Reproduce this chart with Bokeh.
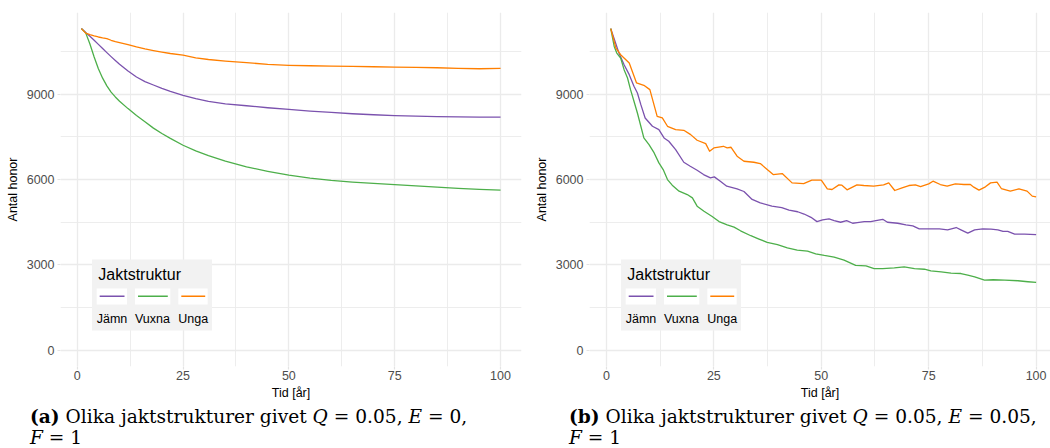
from bokeh.plotting import figure
from bokeh.models import Range1d, FixedTicker, BoxAnnotation, Label, Div
from bokeh.layouts import row, column
from bokeh.embed import file_html
from bokeh.resources import INLINE

# ---------------- data ----------------
series_names = ["Jämn", "Vuxna", "Unga"]
series_colors = ["#7B52AE", "#4DAF4A", "#FF7F00"]
legend_title = "Jaktstruktur"
x_title = "Tid [år]"
y_title = "Antal honor"
x_ticks = [0, 25, 50, 75, 100]
x_tick_labels = ["0", "25", "50", "75", "100"]
x_minor = [12.5, 37.5, 62.5, 87.5]
y_ticks = [0, 3000, 6000, 9000]
y_tick_labels = ["0", "3000", "6000", "9000"]
y_minor = [1500, 4500, 7500, 10500]

# panel (a): Q = 0.05, E = 0, F = 1
tid_a = [1, 2, 3, 4, 5, 6, 7, 8, 9, 10, 12, 14, 16, 18, 20, 22, 25, 28, 31, 35,
         40, 45, 50, 55, 60, 65, 70, 75, 80, 85, 90, 95, 100]
jamn_a = [11300, 11160, 11030, 10890, 10745, 10600, 10455, 10315, 10180, 10050,
          9810, 9600, 9440, 9320, 9200, 9095, 8955, 8840, 8745, 8660,
          8590, 8520, 8460, 8405, 8355, 8310, 8275, 8245, 8225, 8210, 8200, 8193, 8188]
vuxna_a = [11300, 11150, 10760, 10300, 9890, 9560, 9290, 9070, 8900, 8750,
           8490, 8250, 8030, 7805, 7615, 7445, 7203, 7005, 6840, 6650,
           6445, 6290, 6152, 6050, 5970, 5912, 5865, 5822, 5778, 5732, 5692, 5655, 5627]
unga_a = [11300, 11140, 11090, 11045, 11005, 10975, 10950, 10890, 10840, 10805,
          10740, 10660, 10590, 10530, 10475, 10425, 10365, 10275, 10215, 10160,
          10105, 10040, 10010, 9995, 9982, 9972, 9960, 9948, 9935, 9925, 9905, 9890, 9900]

# panel (b): Q = 0.05, E = 0.05, F = 1
tid_b_jamn = [1, 2.9, 4.1, 5.3, 6.4, 7.2, 8.0, 9.0, 10.7, 12.2, 13.4, 14.5, 16.1, 18.0,
              19.5, 21.1, 22.6, 24.2, 25.1, 26.5, 28.0, 30.4, 32.0, 33.9, 35.8, 38.5,
              40.8, 42.5, 44.5, 46.0, 47.6, 49.0, 50.3, 51.8, 53.0, 54.5, 55.9, 57.3,
              58.4, 60.0, 61.5, 62.7, 64.3, 65.4, 67.8, 69.7, 71.3, 72.8, 75.5, 77.5,
              79.4, 81.4, 82.5, 84.1, 85.7, 87.6, 89.5, 91.1, 92.3, 93.4, 95.0, 97.3, 100]
jamn_b = [11300, 10441, 10032, 9682, 9273, 9039, 8630, 8162, 7870, 7753, 7460, 7344, 7051, 6607,
          6467, 6327, 6175, 6058, 6093, 5941, 5765, 5672, 5580, 5300, 5180, 5065,
          5015, 4927, 4869, 4789, 4673, 4523, 4581, 4615, 4558, 4500, 4558, 4465,
          4488, 4523, 4523, 4558, 4604, 4500, 4465, 4408, 4373, 4269, 4269, 4269,
          4235, 4315, 4235, 4119, 4235, 4269, 4258, 4235, 4177, 4177, 4085, 4085, 4062]
tid_b_vuxna = [1, 1.8, 2.4, 3.3, 4.1, 4.9, 5.6, 6.4, 7.2, 8.0, 8.7, 9.9, 11.1, 12.2, 13.2,
               14.2, 15.3, 16.9, 18.8, 20.0, 21.1, 22.7, 24.6, 26.2, 28.1, 29.7, 31.2,
               33.6, 35.5, 37.4, 39.8, 42.1, 44.4, 46.8, 48.7, 50.7, 53.0, 55.3, 58.0,
               60.4, 62.3, 64.3, 67.0, 69.3, 71.7, 74.0, 75.5, 77.9, 80.2, 82.5, 84.1,
               85.7, 88.0, 90.0, 92.7, 95.8, 98.1, 100]
vuxna_b = [11300, 10675, 10441, 10266, 9857, 9565, 9156, 8747, 8337, 7870, 7461, 7227, 6935, 6584, 6350,
           5999, 5801, 5590, 5473, 5356, 5064, 4889, 4700, 4523, 4408, 4327, 4200,
           4027, 3911, 3796, 3715, 3600, 3519, 3484, 3392, 3334, 3277, 3173, 2988,
           2965, 2873, 2873, 2896, 2931, 2873, 2850, 2792, 2757, 2711, 2700, 2642,
           2584, 2469, 2481, 2469, 2446, 2411, 2388]
tid_b_unga = [1, 2.2, 3.3, 5.3, 7.0, 8.7, 10.1, 11.8, 13.0, 14.2, 16.1, 18.0, 19.6, 21.1,
              23.1, 24.0, 25.0, 27.2, 28.1, 29.0, 30.4, 32.0, 34.3, 35.8, 37.0, 38.8,
              40.9, 43.2, 45.9, 47.8, 50.0, 51.4, 52.5, 54.1, 54.8, 56.0, 58.3, 59.9,
              62.2, 64.5, 65.7, 67.1, 68.8, 70.4, 71.9, 73.1, 75.0, 76.0, 77.7, 79.3,
              81.2, 83.2, 84.7, 85.5, 86.7, 88.2, 89.4, 90.9, 91.9, 94.0, 96.0, 97.9, 99.1, 100]
unga_b = [11300, 10617, 10383, 10091, 9390, 9308, 9156, 8220, 8162, 7870, 7753, 7729, 7577, 7379,
          7262, 6993, 7110, 7168, 7110, 7133, 6818, 6642, 6607, 6560, 6409, 6175,
          6210, 5882, 5859, 5976, 5977, 5673, 5650, 5813, 5802, 5638, 5813, 5790,
          5767, 5813, 5883, 5615, 5708, 5790, 5813, 5755, 5848, 5942, 5825, 5767,
          5848, 5825, 5825, 5732, 5627, 5743, 5883, 5907, 5685, 5592, 5673, 5592, 5417, 5393]

caption_a = ('<b>(a)</b> Olika jaktstrukturer givet <i>Q</i> = 0.05, <i>E</i> = 0,'
             '<br><i>F</i> = 1')
caption_b = ('<b>(b)</b> Olika jaktstrukturer givet <i>Q</i> = 0.05, <i>E</i> = 0.05,'
             '<br><i>F</i> = 1')

# ---------------- styling ----------------
FONT = "Liberation Sans"
GRID = "#EBEBEB"

all_vals = jamn_a + vuxna_a + unga_a + jamn_b + vuxna_b + unga_b
ymax = max(all_vals)
y_lo, y_hi = -0.05 * ymax, 1.05 * ymax
xmin, xmax = 1, 100
xpad = 0.05 * (xmax - xmin)

FIG_H = 402


def add_legend(p, bx, by):
    su = dict(left_units="screen", right_units="screen", top_units="screen", bottom_units="screen")
    p.add_layout(BoxAnnotation(left=bx, right=bx + 120, top=by, bottom=by - 71,
                               fill_color="#F2F2F2", fill_alpha=1.0, line_alpha=0, **su))
    p.add_layout(Label(x=bx + 6.3, y=by - 15, x_units="screen", y_units="screen",
                       text=legend_title, text_font=FONT, text_font_size="16px",
                       text_color="black", text_baseline="middle", text_align="left"))
    widths = [30.3, 35.3, 29.4]
    left = bx + 4.7
    for name, col, w in zip(series_names, series_colors, widths):
        p.add_layout(BoxAnnotation(left=left, right=left + w, top=by - 29, bottom=by - 45,
                                   fill_color="white", fill_alpha=1.0, line_alpha=0, **su))
        p.add_layout(BoxAnnotation(left=left + 3, right=left + w - 2.5, top=by - 36.0, bottom=by - 37.4,
                                   fill_color=col, fill_alpha=1.0, line_alpha=0, **su))
        p.add_layout(Label(x=left, y=by - 59.3, x_units="screen", y_units="screen",
                           text=name, text_font=FONT, text_font_size="12.5px",
                           text_color="black", text_baseline="middle", text_align="left"))
        left += w + 8


def panel(width, border_left, border_right, x_end, data):
    p = figure(width=width, height=FIG_H, output_backend="svg", toolbar_location=None,
               x_range=Range1d(xmin - xpad, x_end), y_range=Range1d(y_lo, y_hi),
               min_border_left=border_left, min_border_right=border_right,
               min_border_top=12, min_border_bottom=35)
    p.outline_line_color = None
    p.background_fill_color = "white"
    p.border_fill_color = "white"

    xt = FixedTicker(ticks=x_ticks, minor_ticks=x_minor)
    yt = FixedTicker(ticks=y_ticks, minor_ticks=y_minor)
    p.xaxis.ticker = xt
    p.yaxis.ticker = yt
    p.xgrid.ticker = xt
    p.ygrid.ticker = yt
    p.xaxis.major_label_overrides = dict(zip(x_ticks, x_tick_labels))
    p.yaxis.major_label_overrides = dict(zip(y_ticks, y_tick_labels))

    for g in (p.xgrid[0], p.ygrid[0]):
        g.grid_line_color = GRID
        g.grid_line_width = 1.3
        g.minor_grid_line_color = GRID
        g.minor_grid_line_width = 0.9

    for ax in (p.xaxis[0], p.yaxis[0]):
        ax.axis_line_color = None
        ax.major_tick_line_color = "#E3E3E3"
        ax.major_tick_line_width = 1.2
        ax.major_tick_out = 3
        ax.major_tick_in = 0
        ax.minor_tick_line_color = None
        ax.major_label_text_font = FONT
        ax.major_label_text_font_size = "12.5px"
        ax.major_label_text_color = "#4D4D4D"
        ax.axis_label_text_font = FONT
        ax.axis_label_text_font_size = "12.5px"
        ax.axis_label_text_font_style = "normal"
        ax.axis_label_text_color = "black"
    p.xaxis.axis_label = x_title
    p.yaxis.axis_label = y_title
    p.xaxis.major_label_standoff = 0
    p.yaxis.major_label_standoff = 2
    p.xaxis.axis_label_standoff = 3
    p.yaxis.axis_label_standoff = 4

    for (xs, ys), col in zip(data, series_colors):
        p.line(xs, ys, line_color=col, line_width=1.3, line_join="round")

    add_legend(p, 31.5, 107)
    return p


pa = panel(530, 60, 9, xmax + xpad,
           [(tid_a, jamn_a), (tid_a, vuxna_a), (tid_a, unga_a)])
# right panel is cropped at the page edge in the reference
pb = panel(520, 59, 0, 103.35,
           [(tid_b_jamn, jamn_b), (tid_b_vuxna, vuxna_b), (tid_b_unga, unga_b)])


def caption(html, width, pad_left):
    style = ("font-family:'DejaVu Serif';font-size:18.6px;line-height:21px;"
             "color:#000;white-space:nowrap;padding-top:4px;padding-left:%dpx;" % pad_left)
    return Div(text='<div style="%s">%s</div>' % (style, html), width=width, height=46,
               margin=(0, 0, 0, 0), styles={"overflow": "hidden"})


da = caption(caption_a, 530, 30)
db = caption(caption_b, 520, 39)

layout = column(row(pa, pb), row(da, db))

open("out.html", "w").write(file_html(layout, INLINE))
